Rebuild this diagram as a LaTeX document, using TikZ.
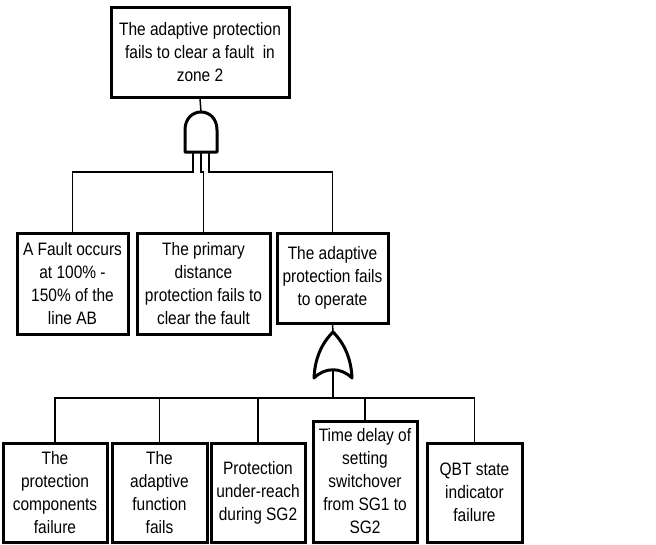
\documentclass[tikz,border=0pt]{standalone}
\usepackage{fontspec}
\setmainfont[FakeStretch=0.86]{Liberation Sans}
\tikzstyle{event}=[rectangle,draw,line width=3pt,inner sep=0pt,align=center,font=\fontsize{18}{23}\selectfont]
\tikzstyle{wire}=[line width=1.5pt]
\tikzstyle{gate}=[line width=3pt,line join=round]

\begin{document}
\begin{tikzpicture}[x=1pt,y=-1pt]
	  \useasboundingbox (0,0) rectangle (656,544);
	  \node (top) at (200,52) [event,minimum width=178pt,minimum height=90pt] {The adaptive protection\\fails to clear a fault \ in\\zone 2};
	  \node (fault) at (72.5,283.5) [event,minimum width=111pt,minimum height=101pt] {A Fault occurs\\at 100\% -\\150\% of the\\line AB};
	  \node (primary) at (203.5,283.5) [event,minimum width=133pt,minimum height=101pt] {The primary\\distance\\protection fails to\\clear the fault};
	  \node (adaptive) at (332.5,278) [event,minimum width=111pt,minimum height=90pt] {The adaptive\\protection fails\\to operate};
	  \node (comp) at (55,492.5) [event,minimum width=104pt,minimum height=99pt] {The\\protection\\components\\failure};
	  \node (func) at (159.5,492.5) [event,minimum width=95pt,minimum height=99pt] {The\\adaptive\\function\\fails};
	  \node (reach) at (258,492.5) [event,minimum width=94pt,minimum height=99pt] {Protection\\under-reach\\during SG2};
	  \node (delay) at (365,481.5) [event,minimum width=104pt,minimum height=121pt] {Time delay of\\setting\\switchover\\from SG1 to\\SG2};
	  \node (qbt) at (474.5,492.5) [event,minimum width=95pt,minimum height=99pt] {QBT state\\indicator\\failure};
	  % AND gate
	  \coordinate (andIn) at (201,112);
	  \coordinate (andL) at (193,152);
	  \coordinate (andM) at (201,152);
	  \coordinate (andR) at (209,152);
	  \draw [gate] (185,152) -- (185,130) .. controls (185,106) and (217,106) .. (217,130) -- (217,152) -- cycle;
	  \draw [wire] (top.south) -- (andIn);
	  \draw [wire] (andL) -- ++(0,20) -| (fault.north);
	  \draw [wire] (andM) -- ++(0,20) -| (primary.north);
	  \draw [wire] (andR) -- ++(0,20) -| (adaptive.north);
	  % OR gate
	  \coordinate (orIn) at (333,332);
	  \coordinate (orOut) at (333,371);
	  \coordinate (bus) at (333,398);
	  \draw [gate] (314,378) .. controls (315,354) and (325,340) .. (orIn) .. controls (341,340) and (351,354) .. (352,378) .. controls (341,367) and (325,367) .. (314,378) -- cycle;
	  \draw [wire] (adaptive.south) -- (orIn);
	  \draw [wire] (orOut) -- (bus);
	  \foreach \b in {comp,func,reach,delay,qbt}
	    \draw [wire] (bus) -| (\b.north);
    %
    \end{tikzpicture}
\end{document}
